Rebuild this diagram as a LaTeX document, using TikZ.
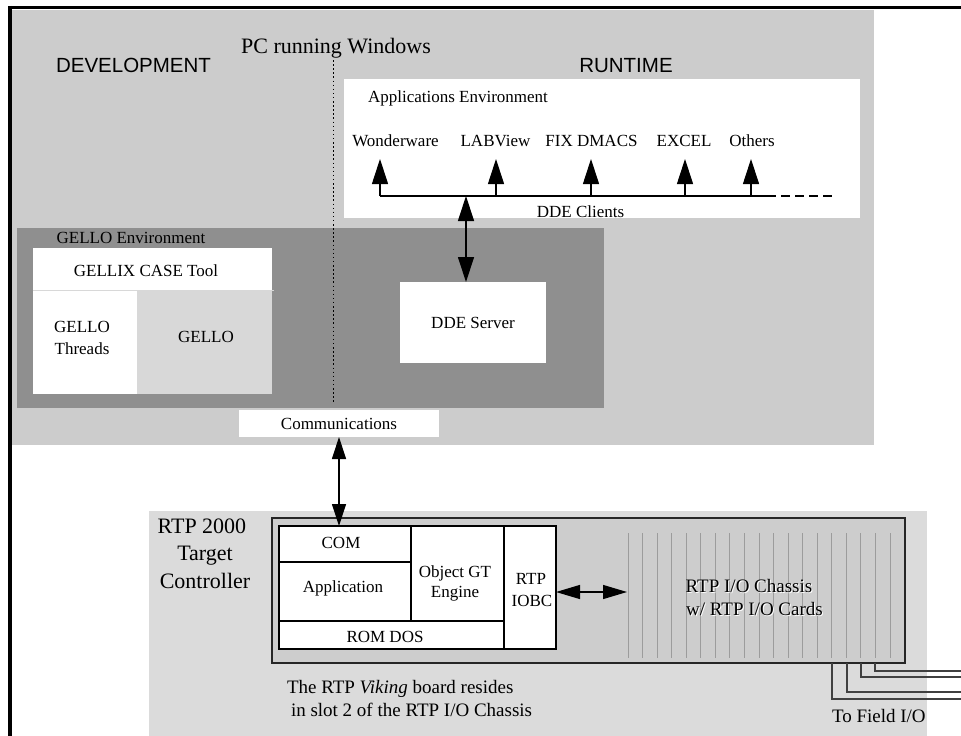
\documentclass[tikz,border=0pt]{standalone}
\usepackage{fontspec}
\setmainfont{Liberation Serif}
\newfontfamily\hsans{Liberation Sans}
\usetikzlibrary{arrows.meta}
\definecolor{pcgray}{HTML}{CCCCCC}
\definecolor{envgray}{HTML}{8F8F8F}
\definecolor{rtpgray}{HTML}{DBDBDB}
\definecolor{chgray}{HTML}{CDCDCD}
\definecolor{gellogray}{HTML}{D8D8D8}
\definecolor{slotgray}{HTML}{9C9C9C}
\begin{document}
\begin{tikzpicture}[x=1pt,y=-1pt,
  every node/.style={inner sep=0pt, outer sep=0pt},
  lbl/.style={font=\fontsize{17}{20}\selectfont, anchor=base},
  midlbl/.style={font=\fontsize{19}{22}\selectfont, anchor=base},
  biglbl/.style={font=\fontsize{22}{26}\selectfont, anchor=base},
  sanslbl/.style={font=\hsans\fontsize{20.5}{24}\selectfont, anchor=base},
  area/.style={anchor=north west, draw=none},
  board/.style={anchor=north west, draw=black, line width=1.3pt, fill=white},
  tipA/.style={line width=1.1pt, -{Triangle[length=25pt,width=16pt]}},
  dblA/.style={line width=1.2pt, {Triangle[length=25pt,width=16pt]}-{Triangle[length=25pt,width=16pt]}},
  dblB/.style={line width=1.2pt, {Triangle[length=22pt,width=14pt]}-{Triangle[length=22pt,width=14pt]}},
  dblC/.style={line width=1.2pt, {Triangle[length=24pt,width=14pt]}-{Triangle[length=24pt,width=14pt]}},
  wire/.style={line width=1.6pt, black!75},
]
\useasboundingbox (0,0) rectangle (961,736);
\fill[white] (0,0) rectangle (961,736);

% ---------- PC area ----------
\node[area, fill=pcgray, minimum width=862pt, minimum height=435pt] (pc) at (12,10) {};
\node[area, fill=white, minimum width=516pt, minimum height=139pt] (appenv) at (344,79) {};
\node[area, fill=envgray, minimum width=587pt, minimum height=180pt] (gelloenv) at (17,228) {};
\node[area, fill=white, minimum width=239pt, minimum height=42pt] (caset) at (33,248) {};
\node[area, fill=white, minimum width=104pt, minimum height=103pt] (threads) at (33,291) {};
\node[area, fill=gellogray, minimum width=135pt, minimum height=103pt] (gello) at (137,291) {};
\draw[gellogray, line width=0.8pt] (caset.south west) -- ([xshift=2pt]caset.south east);
\node[area, fill=white, minimum width=146pt, minimum height=81pt] (dde) at (400,282) {};
\node[area, fill=white, minimum width=200pt, minimum height=27pt] (comm) at (239,410) {};

% dotted divider
\coordinate (dvtop) at (333,60);
\coordinate (dvbot) at (333,402);
\draw[line width=1pt, dash pattern=on 1.5pt off 2.6pt] (dvtop) -- (dvbot);

% frame
\draw[line width=3.4pt] (8.3,7.5) -- (961,7.5);
\draw[line width=3.4pt] (10,5.8) -- (10,736);

% titles
\node[biglbl] (pctitle) at (336,53) {PC running Windows};
\node[sanslbl] (devt) at (133.5,72) {DEVELOPMENT};
\node[sanslbl] (runt) at (626,72) {RUNTIME};

% applications environment
\node[lbl] (apptitle) at (458,102) {Applications Environment};
\node[lbl] (w1) at (395.5,146) {Wonderware};
\node[lbl] (w2) at (495.5,146) {LABView};
\node[lbl] (w3) at (591.5,146) {FIX DMACS};
\node[lbl] (w4) at (684,146) {EXCEL};
\node[lbl] (w5) at (752,146) {Others};
\node[lbl] (ddec) at (580.5,217) {DDE Clients};

\coordinate (busL) at (380,196);
\coordinate (busR) at (767,196);
\coordinate (busD) at (834,196);
\draw[line width=1.1pt] (busL) -- (busR);
\draw[line width=1.1pt, dash pattern=on 9pt off 5pt] (busR) -- (busD);
\foreach \i/\xx in {1/380,2/496,3/591,4/685,5/751}{
  \coordinate (b\i) at (\xx,196);
  \coordinate (t\i) at (\xx,159);
  \draw[tipA] (b\i) -- (t\i);
}
\coordinate (busjoin) at (466,196);
\draw[dblA] (busjoin) -- (busjoin |- dde.north);

% gello environment labels
\node[lbl] (gellot) at (131,243) {GELLO Environment};
\node[lbl] (caselbl) at (146,276) {GELLIX CASE Tool};
\node[lbl] (thr1) at (82,332) {GELLO};
\node[lbl] (thr2) at (82,354) {Threads};
\node[lbl] (gellol) at (206,342) {GELLO};
\node[lbl] (ddel) at (473,328) {DDE Server};
\node[lbl] (comml) at (339,429) {Communications};

% ---------- RTP area ----------
\node[area, fill=rtpgray, minimum width=778pt, minimum height=225pt] (rtp) at (149,511) {};
\node[area, fill=chgray, draw=black!85, line width=1.5pt, minimum width=633pt, minimum height=145pt] (chassis) at (272,518) {};
\foreach \i in {0,...,18}{
  \draw[slotgray, line width=0.8pt] ({628+\i*14.55},533) -- ({628+\i*14.55},658);
}
\node[board, minimum width=132pt, minimum height=36pt] (com) at (279,526) {};
\node[board, minimum width=132pt, minimum height=59pt] (appl) at (279,562) {};
\node[board, minimum width=93pt, minimum height=95pt] (objgt) at (411,526) {};
\node[board, minimum width=225pt, minimum height=28pt] (romdos) at (279,621) {};
\node[board, minimum width=52pt, minimum height=123pt] (iobc) at (504,526) {};

\node[biglbl] (rtp1) at (202,533) {RTP 2000};
\node[biglbl] (rtp2) at (205,560) {Target};
\node[biglbl] (rtp3) at (205,588) {Controller};

\node[lbl] (coml) at (341,548) {COM};
\node[lbl] (appll) at (343,592) {Application};
\node[lbl] (obj1) at (455,577) {Object GT};
\node[lbl] (obj2) at (455,597) {Engine};
\node[lbl] (io1) at (531,584) {RTP};
\node[lbl] (io2) at (532,606) {IOBC};
\node[lbl] (roml) at (385,642) {ROM DOS};

% chassis text with white halo
\node[midlbl, white] (chs1w) at (750,593) {RTP I/O Chassis};
\node[midlbl, white] (chs2w) at (755.5,616) {w/ RTP I/O Cards};
\node[midlbl] (chs1) at (749,592) {RTP I/O Chassis};
\node[midlbl] (chs2) at (754.5,615) {w/ RTP I/O Cards};

\node[midlbl, anchor=base west] (vik1) at (287,693) {The RTP \textit{Viking} board resides};
\node[midlbl, anchor=base west] (vik2) at (291,716) {in slot 2 of the RTP I/O Chassis};
\node[midlbl, anchor=base west] (field) at (832,722) {To Field I/O};

% connectors
\draw[dblB] (comm.south) -- (comm.south |- com.north);
\coordinate (ioR) at (556,592);
\coordinate (chL) at (627,592);
\draw[dblC] (ioR) -- (chL);

% field wires
\foreach \xx/\yy in {832/699,847/692,861/677,875/671}{
  \draw[wire] (\xx,663) |- (961,\yy);
}
\end{tikzpicture}
\end{document}
